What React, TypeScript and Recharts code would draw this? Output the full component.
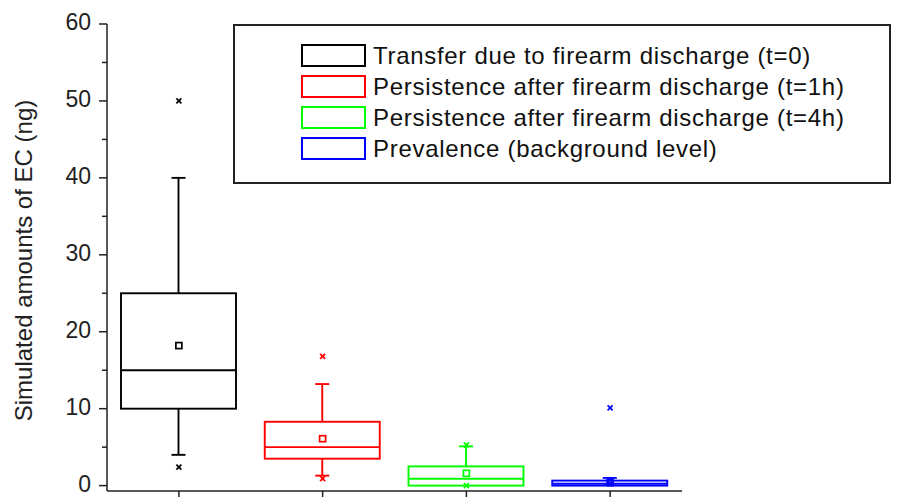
import { ComposedChart, Bar, Scatter, XAxis, YAxis } from "recharts";

const labels = [
  "Transfer due to firearm discharge (t=0)",
  "Persistence after firearm discharge (t=1h)",
  "Persistence after firearm discharge (t=4h)",
  "Prevalence (background level)",
];
const colors = ["#000000", "#ff0000", "#00ff00", "#0000ff"];

// box plot stats (ng)
const whiskerLow = [4, 1.3, 0, 0];
const q1 = [10, 3.5, 0, 0];
const median = [15, 5.0, 0.9, 0.25];
const q3 = [25, 8.3, 2.5, 0.65];
const whiskerHigh = [40, 13.2, 5.1, 1.0];
const mean = [18.2, 6.1, 1.6, 0.4];
const highMark = [50, 16.8, 5.3, 10.1];
const lowMark = [2.4, 0.9, 0, 0.3];

const yTicks = [0, 5, 10, 15, 20, 25, 30, 35, 40, 45, 50, 55, 60];

const data = labels.map((name, i) => ({
  name,
  range: [whiskerLow[i], whiskerHigh[i]],
  lo: whiskerLow[i],
  hi: whiskerHigh[i],
  q1: q1[i],
  median: median[i],
  q3: q3[i],
  mean: mean[i],
  highMark: highMark[i],
  lowMark: lowMark[i],
  color: colors[i],
}));

const FONT = "'Liberation Sans', Arial, sans-serif";

function BoxShape(props: any) {
  const { x, y, width, height, payload } = props;
  const top = Math.min(y, y + height);
  const bottom = Math.max(y, y + height);
  const { lo, hi, color } = payload;
  const py = (v: number) => bottom - ((bottom - top) * (v - lo)) / (hi - lo);
  const cx = x + width / 2;
  return (
    <g stroke={color} strokeWidth={1.9} fill="none">
      <line x1={cx} x2={cx} y1={py(hi)} y2={py(payload.q3)} />
      <line x1={cx - 7} x2={cx + 7} y1={py(hi)} y2={py(hi)} />
      {payload.q1 > lo && (
        <>
          <line x1={cx} x2={cx} y1={py(payload.q1)} y2={py(lo)} />
          <line x1={cx - 7} x2={cx + 7} y1={py(lo)} y2={py(lo)} />
        </>
      )}
      <rect x={x} y={py(payload.q3)} width={width} height={py(payload.q1) - py(payload.q3)} />
      <line x1={x} x2={x + width} y1={py(payload.median)} y2={py(payload.median)} />
    </g>
  );
}

function Cross(props: any) {
  const { cx, cy, payload } = props;
  const s = 2.5;
  return (
    <g stroke={payload.color} strokeWidth={1.7}>
      <line x1={cx - s} x2={cx + s} y1={cy - s} y2={cy + s} />
      <line x1={cx - s} x2={cx + s} y1={cy + s} y2={cy - s} />
    </g>
  );
}

function MeanSquare(props: any) {
  const { cx, cy, payload } = props;
  return <rect x={cx - 3} y={cy - 3} width={6} height={6} fill="none" stroke={payload.color} strokeWidth={1.7} />;
}

function YTick(props: any) {
  const { x, y, payload } = props;
  const major = payload.value % 10 === 0;
  return (
    <g>
      <line x1={x - (major ? 8 : 5)} x2={x} y1={y} y2={y} stroke="#222" strokeWidth={1.5} />
      {major && (
        <text x={x - 16} y={y - 2} dy="0.36em" textAnchor="end" fontSize={23} fontFamily={FONT} fill="#222">
          {payload.value}
        </text>
      )}
    </g>
  );
}

function XTick(props: any) {
  const { x, y } = props;
  return <line x1={x} x2={x} y1={y} y2={y + 6} stroke="#222" strokeWidth={1.5} />;
}

function YLabel(props: any) {
  const vb = props.viewBox;
  const cx = vb.x + 15;
  const cy = vb.y + vb.height / 2 + 3;
  return (
    <text
      x={cx}
      y={cy}
      transform={`rotate(-90, ${cx}, ${cy})`}
      textAnchor="middle"
      dominantBaseline="central"
      fontSize={24}
      fontFamily={FONT}
      fill="#222"
    >
      Simulated amounts of EC (ng)
    </text>
  );
}

export default function App() {
  return (
    <div style={{ position: "relative", width: 893, height: 489 }}>
      <ComposedChart width={893} height={489} data={data} margin={{ top: 16, right: 219, bottom: 0, left: 0 }}>
        <XAxis
          dataKey="name"
          height={6}
          tickSize={0}
          tickMargin={0}
          tickLine={false}
          tick={<XTick />}
          axisLine={{ stroke: "#222", strokeWidth: 1.5 }}
          interval={0}
        />
        <YAxis
          width={99}
          domain={[-0.7, 60]}
          ticks={yTicks}
          interval={0}
          tickSize={0}
          tickMargin={0}
          tickLine={false}
          tick={<YTick />}
          axisLine={{ stroke: "#222", strokeWidth: 1.5 }}
          label={{ content: <YLabel /> }}
        />
        <Bar dataKey="range" barSize={115} shape={<BoxShape />} isAnimationActive={false} />
        <Scatter dataKey="mean" shape={<MeanSquare />} isAnimationActive={false} />
        <Scatter dataKey="highMark" shape={<Cross />} isAnimationActive={false} />
        <Scatter dataKey="lowMark" shape={<Cross />} isAnimationActive={false} />
      </ComposedChart>
      <div
        style={{
          position: "absolute",
          left: 225,
          top: 16,
          width: 658,
          height: 160,
          boxSizing: "border-box",
          border: "2px solid #222",
          background: "#fff",
          paddingLeft: 66,
          paddingTop: 14,
          fontFamily: FONT,
        }}
      >
        {labels.map((label, i) => (
          <div key={i} style={{ display: "flex", alignItems: "center", height: 31 }}>
            <div style={{ width: 65, height: 23, boxSizing: "border-box", border: `2px solid ${colors[i]}` }} />
            <span style={{ marginLeft: 7, fontSize: 24, letterSpacing: 0.7, color: "#111", whiteSpace: "nowrap" }}>
              {label}
            </span>
          </div>
        ))}
      </div>
    </div>
  );
}
